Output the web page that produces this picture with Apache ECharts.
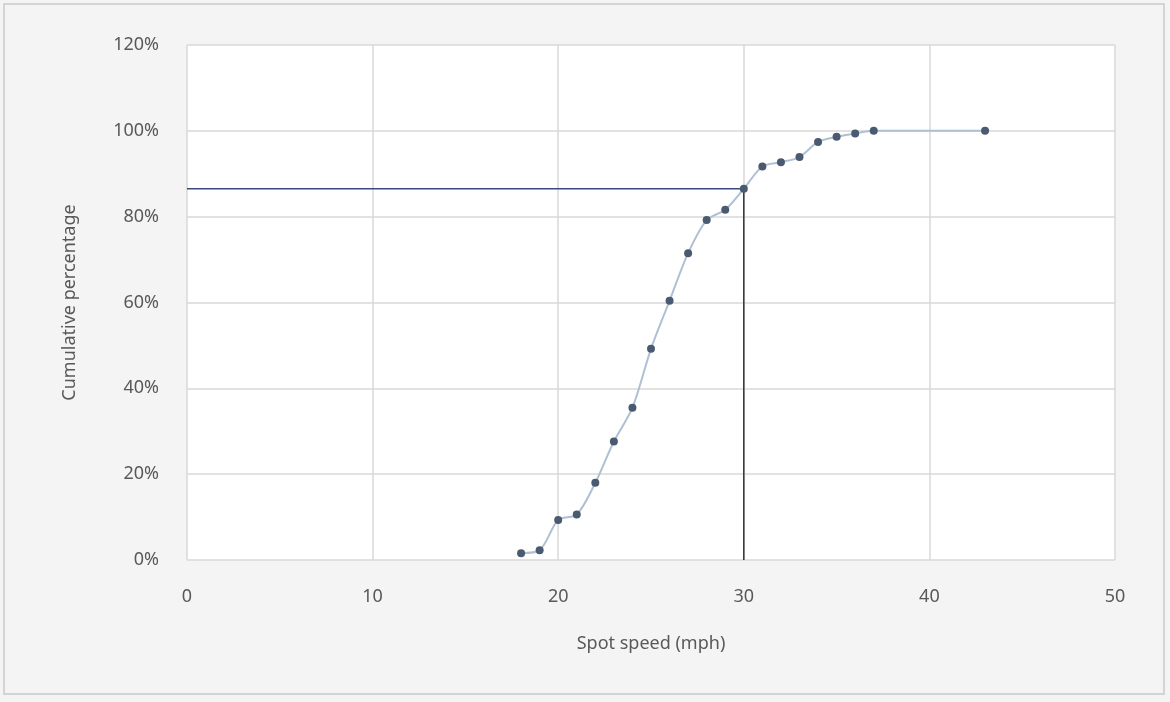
<!DOCTYPE html>
<html><head><meta charset="utf-8">
<script src="https://cdn.jsdelivr.net/npm/echarts@6/dist/echarts.min.js"></script>
<style>html,body{margin:0;padding:0;background:#f4f4f4;}#c{width:1170px;height:702px;}</style>
</head><body><div id="c"></div>
<script>
const speeds = [18,19,20,21,22,23,24,25,26,27,28,29,30,31,32,33,34,35,36,37,43];
const cumPct = [1.6,2.3,9.3,10.6,18,27.6,35.5,49.2,60.4,71.5,79.2,81.6,86.5,91.7,92.7,93.9,97.4,98.6,99.4,100,100];
const refSpeed = 30;
const refPct = 86.5;
const xTicks = {min:0, max:50, interval:10};
const yTicks = {min:0, max:120, interval:20};

const chart = echarts.init(document.getElementById('c'));
const font = 'Noto Sans';
chart.setOption({
  backgroundColor:'#f4f4f4',
  animation:false,
  graphic:[{type:'rect',shape:{x:4,y:4,width:1160,height:690},
    style:{fill:'none',stroke:'#d4d4d4',lineWidth:2},silent:true}],
  grid:{left:187,right:55,top:45,bottom:142,show:true,backgroundColor:'#ffffff',borderWidth:0},
  xAxis:{type:'value',min:xTicks.min,max:xTicks.max,interval:xTicks.interval,
    name:'Spot speed (mph)',nameLocation:'middle',nameGap:75,
    nameTextStyle:{color:'#595959',fontSize:18,fontFamily:font},
    axisLine:{show:false},axisTick:{show:false},
    axisLabel:{color:'#595959',fontSize:18,fontFamily:font,margin:28},
    splitLine:{show:true,lineStyle:{color:'#d9d9d9',width:1.5}}},
  yAxis:{type:'value',min:yTicks.min,max:yTicks.max,interval:yTicks.interval,
    name:'Cumulative percentage',nameLocation:'middle',nameGap:108,
    nameTextStyle:{color:'#595959',fontSize:18,fontFamily:font},
    axisLine:{show:false},axisTick:{show:false},
    axisLabel:{color:'#595959',fontSize:18,fontFamily:font,formatter:'{value}%',margin:28},
    splitLine:{show:true,lineStyle:{color:'#d9d9d9',width:1.5}}},
  series:[
    {type:'line',data:[[xTicks.min,refPct],[refSpeed,refPct]],symbol:'none',
      lineStyle:{color:'#3b4a7a',width:1.5},z:3},
    {type:'line',data:[[refSpeed,yTicks.min],[refSpeed,refPct]],symbol:'none',
      lineStyle:{color:'#333333',width:1.5},z:3},
    {type:'line',data:speeds.map((s,i)=>[s,cumPct[i]]),smooth:0.3,
      symbol:'circle',symbolSize:8,
      itemStyle:{color:'#4a5a70'},
      lineStyle:{color:'#b0c0d4',width:2},z:4}
  ]
});
</script></body></html>
